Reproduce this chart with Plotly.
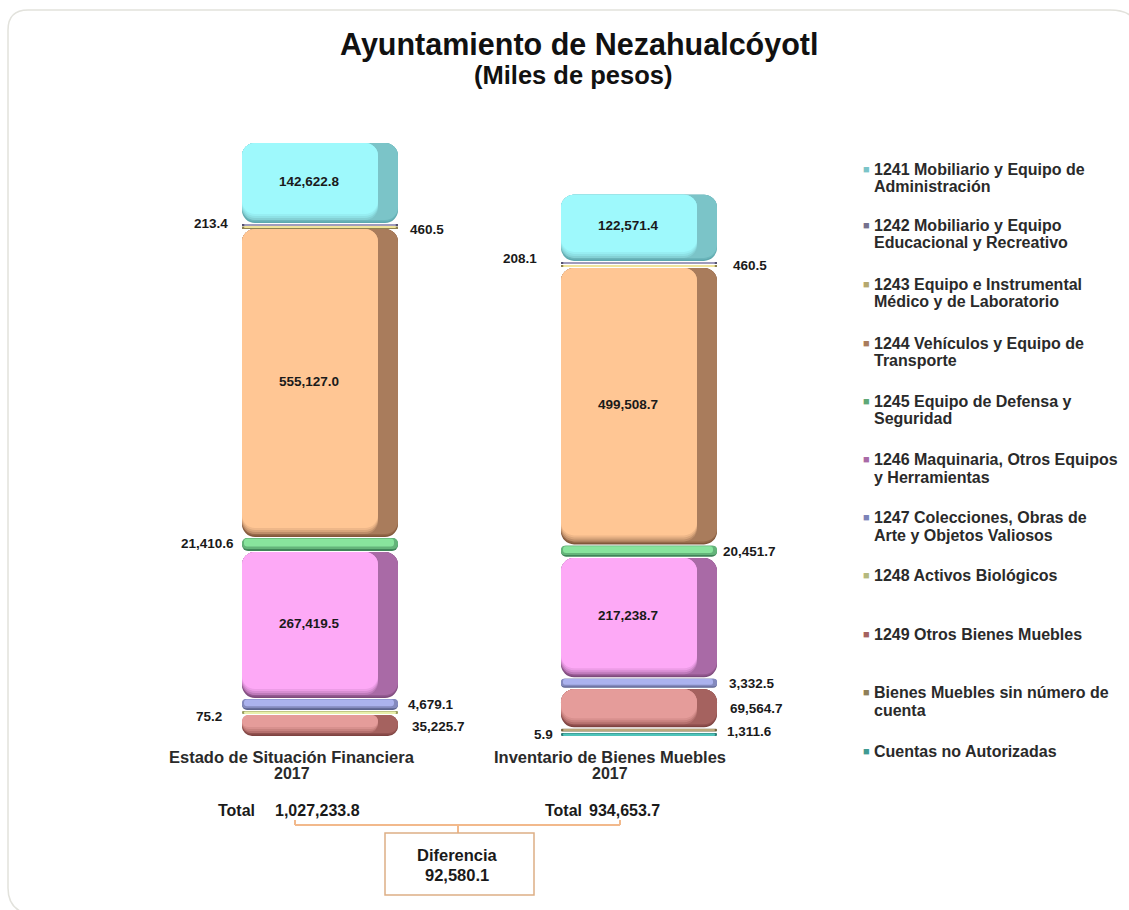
import plotly.graph_objects as go

W, H = 1129, 910
FONT = "Liberation Sans, Arial, sans-serif"
TXT = "#1a1a1a"

categories = [("Estado de Situación Financiera", "2017"), ("Inventario de Bienes Muebles", "2017")]

# bottom of the stack first
series = [
    ["Cuentas no Autorizadas"],
    ["Bienes Muebles sin número de", "cuenta"],
    ["1249 Otros Bienes Muebles"],
    ["1248 Activos Biológicos"],
    ["1247 Colecciones, Obras de", "Arte y Objetos Valiosos"],
    ["1246 Maquinaria, Otros Equipos", "y Herramientas"],
    ["1245 Equipo de Defensa y", "Seguridad"],
    ["1244 Vehículos y Equipo de", "Transporte"],
    ["1243 Equipo e Instrumental", "Médico y de Laboratorio"],
    ["1242 Mobiliario y Equipo", "Educacional y Recreativo"],
    ["1241 Mobiliario y Equipo de", "Administración"],
]

# printed figures, miles de pesos
printed_esf = [None, None, 35225.7, 75.2, 4679.1, 267419.5, 21410.6, 555127.0, 213.4, 460.5, 142622.8]
printed_inv = [1311.6, 5.9, 69564.7, None, 3332.5, 217238.7, 20451.7, 499508.7, 208.1, 460.5, 122571.4]

# drawn heights: thin slices are thicker there than their figure
drawn_esf = [0, 0, 36.5, 5.2, 19, 253.6, 22.6, 535, 2.6, 2.6, 139]
drawn_inv = [5.2, 5.2, 66, 0, 16, 207, 19, 480, 2.6, 2.6, 115]
gaps = [1.74, 2.4]

face = ["#4FC4BA", "#BBA97C", "#E59C9A", "#E9F0AC", "#ABB2EE", "#FDA9F6", "#88E49D", "#FFC694", "#F0E49A", "#A09CBC", "#9EF9FC"]
side = ["#3F9A92", "#8F7F58", "#A5625F", "#B5B97E", "#7C83B8", "#A96AA6", "#5FA877", "#A97C5C", "#B5A86E", "#75718E", "#7BC4C8"]
edge = ["#2F7F78", "#75663F", "#7E4341", "#9A9E60", "#5C638F", "#7E4A7C", "#3F8558", "#82573A", "#8E8350", "#565270", "#5CA9AE"]
legend_y = [751, 692, 634, 575, 517, 459, 401, 343, 284, 225, 169]

# outside labels: page position of each printed figure
labels_esf = {2: (438, 726), 3: (209, 716), 4: (431, 704), 6: (207, 543), 8: (211, 223), 9: (427, 229)}
labels_inv = {0: (749, 731), 1: (543, 734), 2: (756, 708), 4: (752, 683), 6: (749, 551), 8: (520, 258), 9: (750, 265)}

X0_PX = [292, 611]
UNIT_PX = 319
Y_BOTTOM, Y_TOP, Y_MAX = 736, 143, 1030
K_PER_PX = Y_MAX / (Y_BOTTOM - Y_TOP)


def px(x, y):
    return x / W, 1 - y / H


def blend(a, b, t):
    ca = [int(a[i:i + 2], 16) for i in (1, 3, 5)]
    cb = [int(b[i:i + 2], 16) for i in (1, 3, 5)]
    return "#" + "".join(f"{round(p + (q - p) * t):02X}" for p, q in zip(ca, cb))


fig = go.Figure()


def pill(cat, base, height, left, width, color, radius):
    # a bar with an explicit base gets all four corners rounded
    fig.add_trace(go.Bar(
        x=[cat], y=[height], base=[base],
        offset=left / UNIT_PX, width=width / UNIT_PX,
        marker=dict(color=color, cornerradius=radius, line=dict(width=0)),
        showlegend=False, hoverinfo="skip",
    ))


for cat, drawn in enumerate([drawn_esf, drawn_inv]):
    base = 0
    for i, h in enumerate(drawn):
        if h <= 0:
            continue
        h_px = h / K_PER_PX
        r = min(13, h_px / 2)
        if h_px > 20:
            # soft lower bevel, dark edge up to the face colour
            for b_px, t in [(0, 0), (1.5, 0.5), (3, 1)]:
                b = b_px * K_PER_PX
                pill(cat, base + b, h - b, -50, 156, blend(edge[i], side[i], t), r)
            for b_px, t in [(3, 0.25), (5, 0.55), (7, 0.8), (9, 1)]:
                b = b_px * K_PER_PX
                pill(cat, base + b, h - b, -50, 136, blend(side[i], face[i], t), r)
        elif h_px > 4:
            pill(cat, base, h, -50, 156, edge[i], r)
            pill(cat, base + h * 0.15, h * 0.85, -50, 156, blend(edge[i], face[i], 0.5), r)
            pill(cat, base + h * 0.35, h * 0.6, -48, 150, face[i], r * 0.8)
        else:
            pill(cat, base, h, -50, 156, edge[i], r)
            pill(cat, base + h * 0.25, h * 0.6, -48, 152, face[i], 1)
        base += h + gaps[cat]

annotations = []


def text(x, y, s, size=13.5, color=TXT, xanchor="center"):
    xp, yp = px(x, y)
    annotations.append(dict(x=xp, y=yp, xref="paper", yref="paper", text=f"<b>{s}</b>", showarrow=False,
                            xanchor=xanchor, yanchor="middle", borderpad=0,
                            font=dict(family=FONT, size=size, color=color)))


# inside labels
for drawn, printed, cat in [(drawn_esf, printed_esf, 0), (drawn_inv, printed_inv, 1)]:
    base = 0
    for i, h in enumerate(drawn):
        if h > 0:
            if h > 100:
                mid_px = Y_BOTTOM - (base + h / 2) / K_PER_PX
                text(X0_PX[cat] + 17, mid_px - 2, f"{printed[i]:,.1f}")
            base += h + gaps[cat]

for idx, (x, y) in labels_esf.items():
    text(x, y, f"{printed_esf[idx]:,.1f}")
for idx, (x, y) in labels_inv.items():
    text(x, y, f"{printed_inv[idx]:,.1f}")

# legend column
for lines, y, c in zip(series, legend_y, side):
    text(866, y, "■", size=11, color=c)
    for n, part in enumerate(lines):
        text(873, y + 18 * n, part, size=16, xanchor="left", color="#2a2a2a")

for (name, year), cx_ in zip(categories, [292, 610]):
    text(cx_, 757, name, size=16.5, color="#2a2a2a")
    text(cx_, 773, year, size=16, color="#2a2a2a")

text(579, 44, "Ayuntamiento de Nezahualcóyotl", size=30.5, color="#111111")
text(573, 75, "(Miles de pesos)", size=25.5, color="#111111")
text(236, 810, "Total", size=16)
text(317, 810, "1,027,233.8", size=16)
text(563, 810, "Total", size=16)
text(624, 810, "934,653.7", size=16)
text(457, 855, "Diferencia", size=16.5)
text(457, 875, "92,580.1", size=16.5)


def line(x0, y0, x1, y1, color="#F2B98C"):
    a, b = px(x0, y0)
    c, d = px(x1, y1)
    return dict(type="line", xref="paper", yref="paper", x0=a, y0=b, x1=c, y1=d, line=dict(color=color, width=2))


bx0, by0 = px(385, 833)
bx1, by1 = px(534, 895)
cx = lambda v: v / W
cy = lambda v: 1 - v / H
card = (f"M {cx(22)},{cy(912)} Q {cx(8)},{cy(906)} {cx(8)},{cy(888)} L {cx(8)},{cy(30)} "
        f"Q {cx(8)},{cy(10)} {cx(28)},{cy(10)} L {cx(1110)},{cy(10)} Q {cx(1124)},{cy(10)} {cx(1131)},{cy(16)}")
shapes = [
    dict(type="path", xref="paper", yref="paper", path=card, line=dict(color="#E2E2DC", width=1.5), layer="below"),
    line(295, 825, 620, 825),
    line(295, 825, 295, 820),
    line(620, 825, 620, 820),
    line(458, 825, 458, 833),
    dict(type="rect", xref="paper", yref="paper", x0=bx0, y0=by0, x1=bx1, y1=by1,
         line=dict(color="#DDAF85", width=1.5), fillcolor="white"),
]

fig.update_layout(
    width=W, height=H,
    margin=dict(l=0, r=0, t=0, b=0),
    barmode="overlay",
    paper_bgcolor="white", plot_bgcolor="white",
    showlegend=False,
    annotations=annotations,
    shapes=shapes,
    xaxis=dict(
        domain=[100 / W, 802 / W],
        range=[-192 / UNIT_PX, 510 / UNIT_PX],
        showticklabels=False, ticks="",
        showgrid=False, zeroline=False, showline=False,
    ),
    yaxis=dict(
        domain=[1 - Y_BOTTOM / H, 1 - Y_TOP / H],
        range=[0, Y_MAX],
        visible=False,
    ),
)

fig.write_html("out.html", config=dict(displayModeBar=False),
               post_script="document.body.style.margin='0';document.body.style.overflow='hidden';")
